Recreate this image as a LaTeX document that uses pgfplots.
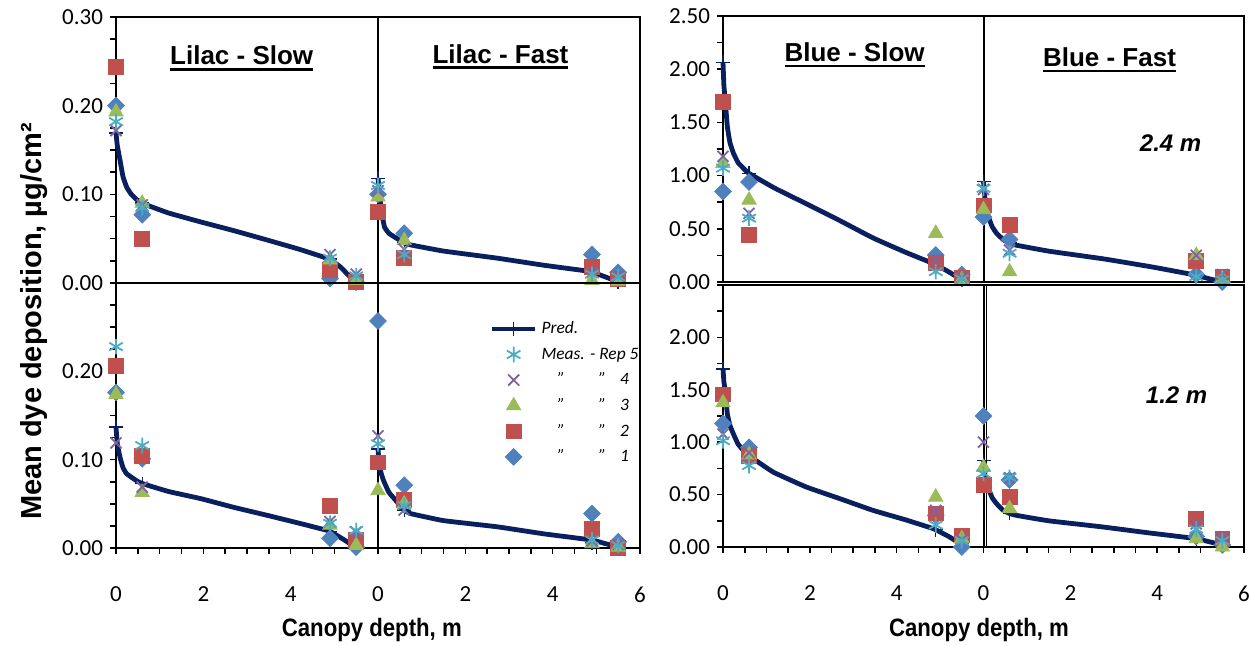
\documentclass[border=0pt]{standalone}
\usepackage{pgfplots}
\pgfplotsset{compat=1.18}
\usepackage{pgfplotstable}
\usepackage{graphicx}
\usepackage{fontspec}
\setmainfont{Carlito}
\newfontfamily\arialf{Liberation Sans}
\definecolor{navy}{HTML}{0A1F5E}
\definecolor{c1}{HTML}{4F81BD}
\definecolor{c2}{HTML}{C0504D}
\definecolor{c3}{HTML}{9BBB59}
\definecolor{c4}{HTML}{8064A2}
\definecolor{c5}{HTML}{4BACC6}
\newcommand\ulbox[1]{\setbox0\hbox{#1}\rlap{\rule[-2.8pt]{\wd0}{1.3pt}}\box0}
\newcommand\titlefont{\arialf\bfseries\fontsize{13}{15}\selectfont}
\newcommand\legfont{\itshape\fontsize{8.7}{10}\selectfont}

\pgfplotstableread{
x r1 r2 r3 r4 r5 p
0 0.200 0.244 0.193 0.172 0.182 0.169
0.6 0.077 0.050 0.090 0.088 0.085 0.090
4.9 0.005 0.015 0.026 0.032 0.028 0.027
5.5 0.001 0.001 0.003 0.010 0.008 0.001
6 0.100 0.080 0.097 0.104 0.110 0.118
6.6 0.056 0.028 0.048 0.038 0.032 0.045
10.9 0.032 0.018 0.003 0.012 0.010 0.0125
11.5 0.012 0.005 0.002 0.008 0.007 0.0015
}\LT
\pgfplotstableread{
x r1 r2 r3 r4 r5 p
0 0.176 0.206 0.174 0.119 0.228 0.137
0.6 0.101 0.104 0.063 0.069 0.116 0.073
4.9 0.011 0.048 0.026 0.030 0.028 0.019
5.5 0.001 0.009 0.003 0.018 0.020 0.002
6 0.257 0.097 0.065 0.127 0.118 0.112
6.6 0.071 0.054 0.050 0.043 0.048 0.043
10.9 0.039 0.022 0.005 0.008 0.009 0.006
11.5 0.007 0.000 0.001 0.004 0.003 0.0015
}\LB
\pgfplotstableread{
x r1 r2 r3 r4 r5 p
0 0.85 1.69 1.115 1.18 1.07 2.065
0.6 0.94 0.44 0.77 0.645 0.60 1.02
4.9 0.254 0.176 0.458 0.207 0.097 0.165
5.5 0.07 0.04 0.02 0.04 0.03 0.02
6 0.61 0.72 0.68 0.87 0.88 0.943
6.6 0.40 0.536 0.097 0.30 0.27 0.37
10.9 0.07 0.20 0.25 0.25 0.05 0.063
11.5 0.00 0.05 0.03 0.07 0.02 0.003
}\RT
\pgfplotstableread{
x r1 r2 r3 r4 r5 p
0 1.178 1.457 1.377 1.078 1.014 1.70
0.6 0.95 0.87 0.88 0.90 0.777 0.87
4.9 0.30 0.32 0.477 0.35 0.21 0.165
5.5 0.00 0.11 0.08 0.07 0.06 0.035
6 1.25 0.59 0.76 1.00 0.70 0.825
6.6 0.64 0.477 0.367 0.66 0.665 0.32
10.9 0.10 0.27 0.08 0.22 0.17 0.08
11.5 0.02 0.08 0.00 0.09 0.06 0.02
}\RB

\pgfplotsset{
  panel/.style={scale only axis, xmin=0, xmax=12, clip=false,
    axis line style={line width=1pt},
    tick style={black, line width=0.8pt}, tick align=outside,
    major tick length=3pt, minor tick length=3pt,
    ytick pos=left,
    ticklabel style={font=\fontsize{11.5}{13}\selectfont},
    /pgf/number format/assume math mode=true,
    yticklabel style={/pgf/number format/fixed, /pgf/number format/fixed zerofill, /pgf/number format/precision=2},
    legend image code/.code={\draw[mark repeat=2,mark phase=2,##1] plot coordinates {(0pt,0pt) (10.75pt,0pt) (21.5pt,0pt)};}},
  toppanel/.style={panel, xtick=\empty, minor xtick=\empty},
  botpanel/.style={panel, xtick pos=bottom, xtick={0,2,...,12}, xticklabels={0,2,4,0,2,4,6},
    minor xtick={0,0.5,...,12}, xticklabel style={yshift=-13pt}},
  curve/.style={navy, line width=2.4pt, no markers, smooth, tension=0.2},
  predm/.style={only marks, navy, mark=+, mark size=3.5pt, mark options={line width=0.7pt}},
  r1/.style={only marks, c1, mark=square*, mark size=2.95pt, mark options={rotate=45}},
  r2/.style={only marks, c2, mark=square*, mark size=3.7pt},
  r3/.style={only marks, c3, mark=triangle*, mark size=4.1pt},
  r4/.style={only marks, c4, mark=x, mark size=3.9pt, mark options={line width=0.9pt}},
  r5/.style={only marks, c5, mark=asterisk, mark size=3.9pt, mark options={line width=0.9pt}},
}

\begin{document}
\begin{tikzpicture}
\useasboundingbox (0,0) rectangle (625.5pt,323pt);

% Lilac top
\begin{axis}[toppanel, at={(58pt,181.5pt)}, anchor=south west, width=262pt, height=133pt,
  ymin=0, ymax=0.3, ytick={0,0.1,0.2,0.3}, minor ytick={0,0.025,...,0.3}]
\draw[line width=1pt] (axis cs:6,0) -- (axis cs:6,0.3);
\addplot[curve] coordinates {(0,0.169) (0.03,0.155) (0.09,0.139) (0.16,0.120) (0.245,0.108) (0.35,0.100) (0.475,0.094) (0.6,0.090) (0.7,0.088) (1.2,0.079) (1.93,0.069) (2.7,0.059) (3.46,0.0485) (4.2,0.038) (4.83,0.028) (4.9,0.027) (5.14,0.018) (5.3,0.010) (5.49,0.001)};
\addplot[curve] coordinates {(6,0.118) (6.03,0.105) (6.05,0.094) (6.1,0.075) (6.15,0.063) (6.25,0.056) (6.44,0.050) (6.6,0.045) (6.74,0.043) (7.5,0.036) (8.73,0.028) (9.8,0.020) (10.87,0.013) (10.9,0.0125) (11.2,0.007) (11.49,0.0015)};
\addplot[predm] table[x=x,y=p]{\LT};
\addplot[r1] table[x=x,y=r1]{\LT};
\addplot[r2] table[x=x,y=r2]{\LT};
\addplot[r3] table[x=x,y=r3]{\LT};
\addplot[r4] table[x=x,y=r4]{\LT};
\addplot[r5] table[x=x,y=r5]{\LT};
\end{axis}

% Lilac bottom
\begin{axis}[botpanel, at={(58pt,49pt)}, anchor=south west, width=262pt, height=132.5pt,
  ymin=0, ymax=0.3, ytick={0,0.1,0.2}, minor ytick={0,0.025,...,0.3},
  legend style={at={(axis cs:8.55,0.259)}, anchor=north west, draw=none, fill=none, inner sep=0pt,
    font=\legfont, row sep=3.5pt, nodes={inner sep=0.5pt, text height=6.5pt, text depth=1.8pt},
    /tikz/every odd column/.append style={column sep=1.5pt}},
  legend cell align=left]
\addlegendimage{legend image code/.code={\draw[navy,line width=2.4pt] (0pt,0pt)--(21.5pt,0pt); \draw[navy,line width=0.7pt] (10.75pt,-3.5pt)--(10.75pt,3.5pt) (7.5pt,0pt)--(14pt,0pt);}}
\addlegendentry{Pred.}
\addlegendimage{r5}\addlegendentry{Meas. - Rep 5}
\addlegendimage{r4}\addlegendentry{\hspace*{8pt}"\hspace*{17pt}"\hspace*{7pt}4}
\addlegendimage{r3}\addlegendentry{\hspace*{8pt}"\hspace*{17pt}"\hspace*{7pt}3}
\addlegendimage{r2}\addlegendentry{\hspace*{8pt}"\hspace*{17pt}"\hspace*{7pt}2}
\addlegendimage{r1}\addlegendentry{\hspace*{8pt}"\hspace*{17pt}"\hspace*{7pt}1}
\draw[line width=1pt] (axis cs:6,0) -- (axis cs:6,0.3);
\addplot[curve, forget plot] coordinates {(0,0.137) (0.03,0.118) (0.09,0.103) (0.16,0.091) (0.245,0.084) (0.475,0.076) (0.6,0.073) (1.2,0.064) (1.93,0.056) (2.7,0.046) (3.46,0.037) (4.2,0.028) (4.83,0.020) (4.9,0.019) (5.2,0.010) (5.45,0.002)};
\addplot[curve, forget plot] coordinates {(6,0.112) (6.03,0.095) (6.07,0.085) (6.13,0.076) (6.25,0.063) (6.44,0.052) (6.6,0.043) (6.74,0.039) (7.5,0.031) (8.73,0.024) (9.8,0.016) (10.9,0.009) (11.2,0.005) (11.48,0.0015)};
\addplot[predm, forget plot] table[x=x,y=p]{\LB};
\addplot[r1, forget plot] table[x=x,y=r1]{\LB};
\addplot[r2, forget plot] table[x=x,y=r2]{\LB};
\addplot[r3, forget plot] table[x=x,y=r3]{\LB};
\addplot[r4, forget plot] table[x=x,y=r4]{\LB};
\addplot[r5, forget plot] table[x=x,y=r5]{\LB};
\end{axis}

% Blue top
\begin{axis}[toppanel, at={(361.5pt,182pt)}, anchor=south west, width=260.5pt, height=133pt,
  ymin=0, ymax=2.5, ytick={0,0.5,...,2.5}, minor ytick={0,0.25,...,2.5}]
\draw[line width=1pt] (axis cs:6,0) -- (axis cs:6,2.5);
\addplot[curve] coordinates {(0,2.065) (0.02,1.85) (0.05,1.71) (0.1,1.46) (0.16,1.31) (0.24,1.21) (0.35,1.12) (0.54,1.04) (0.6,1.02) (1.2,0.88) (1.92,0.735) (2.7,0.575) (3.45,0.415) (4.2,0.28) (4.83,0.176) (4.9,0.165) (5.2,0.095) (5.5,0.02)};
\addplot[curve] coordinates {(6,0.943) (6.03,0.80) (6.06,0.70) (6.11,0.614) (6.2,0.52) (6.3,0.458) (6.45,0.40) (6.6,0.37) (6.73,0.348) (7.5,0.29) (8.8,0.215) (9.9,0.14) (10.87,0.066) (10.9,0.063) (11.2,0.03) (11.49,0.003)};
\addplot[predm] table[x=x,y=p]{\RT};
\addplot[r1] table[x=x,y=r1]{\RT};
\addplot[r2] table[x=x,y=r2]{\RT};
\addplot[r3] table[x=x,y=r3]{\RT};
\addplot[r4] table[x=x,y=r4]{\RT};
\addplot[r5] table[x=x,y=r5]{\RT};
\end{axis}

% Blue bottom
\begin{axis}[botpanel, at={(361.5pt,49.5pt)}, anchor=south west, width=260.5pt, height=131pt,
  ymin=0, ymax=2.5, ytick={0,0.5,...,2}, minor ytick={0,0.25,...,2.5}]
\draw[line width=1pt] (axis cs:6,0) -- (axis cs:6,2.5);
\draw[line width=0.8pt] (axis cs:6.07,0) -- (axis cs:6.07,2.5);
\addplot[curve] coordinates {(0,1.70) (0.02,1.58) (0.05,1.49) (0.1,1.27) (0.16,1.16) (0.24,1.078) (0.35,0.98) (0.54,0.888) (0.6,0.87) (1.16,0.714) (1.92,0.572) (2.7,0.46) (3.45,0.35) (4.2,0.26) (4.83,0.177) (4.9,0.165) (5.2,0.10) (5.45,0.035)};
\addplot[curve] coordinates {(6,0.825) (6.03,0.70) (6.07,0.60) (6.13,0.54) (6.2,0.47) (6.3,0.414) (6.45,0.35) (6.6,0.32) (6.74,0.303) (7.5,0.25) (8.73,0.192) (9.8,0.135) (10.87,0.082) (10.9,0.08) (11.2,0.05) (11.48,0.02)};
\addplot[predm] table[x=x,y=p]{\RB};
\addplot[r1] table[x=x,y=r1]{\RB};
\addplot[r2] table[x=x,y=r2]{\RB};
\addplot[r3] table[x=x,y=r3]{\RB};
\addplot[r4] table[x=x,y=r4]{\RB};
\addplot[r5] table[x=x,y=r5]{\RB};
\end{axis}

% titles and labels
\node[anchor=base, font=\titlefont] at (120.85pt,290.5pt) {\ulbox{Lilac - Slow}};
\node[anchor=base, font=\titlefont] at (250.25pt,291.35pt) {\ulbox{Lilac - Fast}};
\node[anchor=base, font=\titlefont] at (427.3pt,292.2pt) {\ulbox{Blue - Slow}};
\node[anchor=base, font=\titlefont] at (554.75pt,289.7pt) {\ulbox{Blue - Fast}};
\node[anchor=base, font=\arialf\bfseries\itshape\fontsize{12}{14}\selectfont] at (585.3pt,247.2pt) {2.4 m};
\node[anchor=base, font=\arialf\bfseries\itshape\fontsize{12}{14}\selectfont] at (588.3pt,121pt) {1.2 m};
\node[rotate=90, font=\arialf\bfseries\fontsize{14.5}{16}\selectfont] at (17pt,162.25pt) {Mean dye deposition, µg/cm²};
\node[anchor=base, font=\arialf\bfseries\fontsize{12.6}{14}\selectfont] at (185.9pt,4.7pt) {\scalebox{0.88}[1]{Canopy depth, m}};
\node[anchor=base, font=\arialf\bfseries\fontsize{12.6}{14}\selectfont] at (489.5pt,4.7pt) {\scalebox{0.88}[1]{Canopy depth, m}};
\end{tikzpicture}
\end{document}
